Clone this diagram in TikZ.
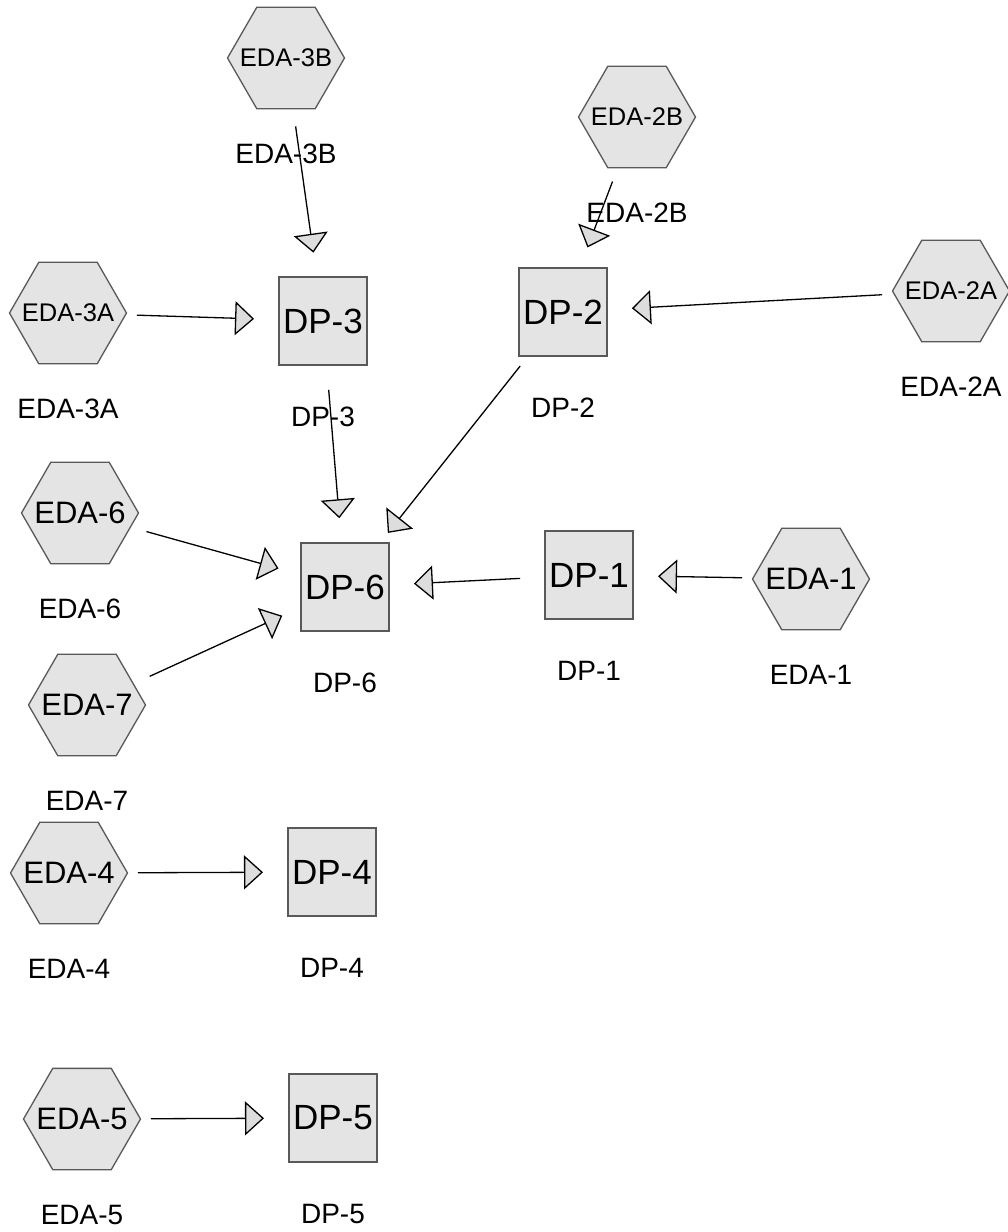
\documentclass[tikz,border=0pt]{standalone}
\usepackage{fontspec}
\setmainfont{Liberation Sans}
\usetikzlibrary{shapes.geometric,arrows.meta}

\definecolor{nodefill}{HTML}{E4E4E4}
\definecolor{nodeline}{HTML}{595959}
\definecolor{tipfill}{HTML}{DDDDDD}

% text of a hexagon must not widen it
\newcommand{\hexname}[1]{\makebox[0pt]{#1}}

\tikzset{
  eda/.style={regular polygon, regular polygon sides=6, minimum size=117pt,
    inner sep=0pt, draw=nodeline, fill=nodefill, line width=1.3pt,
    font=\fontsize{31}{31}\selectfont},
  edasmall/.style={eda, font=\fontsize{25.5}{26}\selectfont},
  dp/.style={rectangle, minimum width=88pt, minimum height=88pt,
    inner sep=0pt, draw=nodeline, fill=nodefill, line width=1.3pt,
    font=\fontsize{35}{35}\selectfont},
  tag/.style={anchor=center, yshift=-96pt, font=\fontsize{28}{28}\selectfont},
  link/.style={line width=1.3pt, shorten <=69pt, shorten >=69pt,
    -{Triangle[length=19pt, width=34pt, fill=tipfill]}}
}

\begin{document}
\begin{tikzpicture}[x=1pt, y=-1pt]
  \useasboundingbox (0,0) rectangle (1008,1232);

  \node[edasmall, label={[tag]center:EDA-3B}] (eda3b) at (286,58)  {\hexname{EDA-3B}};
  \node[edasmall, label={[tag]center:EDA-2B}] (eda2b) at (637,117) {\hexname{EDA-2B}};
  \node[edasmall, label={[tag]center:EDA-3A}] (eda3a) at (68,313)  {\hexname{EDA-3A}};
  \node[edasmall, label={[tag]center:EDA-2A}] (eda2a) at (951,291) {\hexname{EDA-2A}};
  \node[eda, label={[tag]center:EDA-6}] (eda6) at (80,513)  {\hexname{EDA-6}};
  \node[eda, label={[tag]center:EDA-1}] (eda1) at (811,579) {\hexname{EDA-1}};
  \node[eda, label={[tag]center:EDA-7}] (eda7) at (87,705)  {\hexname{EDA-7}};
  \node[eda, label={[tag]center:EDA-4}] (eda4) at (69,873)  {\hexname{EDA-4}};
  \node[eda, label={[tag]center:EDA-5}] (eda5) at (82,1119) {\hexname{EDA-5}};

  \node[dp, label={[tag]center:DP-3}] (dp3) at (323,321)  {DP-3};
  \node[dp, label={[tag]center:DP-2}] (dp2) at (563,312)  {DP-2};
  \node[dp, label={[tag]center:DP-6}] (dp6) at (345,587)  {DP-6};
  \node[dp, label={[tag]center:DP-1}] (dp1) at (589,575)  {DP-1};
  \node[dp, label={[tag]center:DP-4}] (dp4) at (332,872)  {DP-4};
  \node[dp, label={[tag]center:DP-5}] (dp5) at (333,1118) {DP-5};

  \path[link]
  (eda3b.center) edge (dp3.center)
  (eda3a.center) edge (dp3.center)
  (eda2b.center) edge (dp2.center)
  (eda2a.center) edge (dp2.center)
  (dp3.center)   edge (dp6.center)
  (dp2.center)   edge (dp6.center)
  (eda6.center)  edge (dp6.center)
  (eda7.center)  edge (dp6.center)
  (dp1.center)   edge (dp6.center)
  (eda1.center)  edge (dp1.center)
  (eda4.center)  edge (dp4.center)
  (eda5.center)  edge (dp5.center)
              ;
\end{tikzpicture}
\end{document}
